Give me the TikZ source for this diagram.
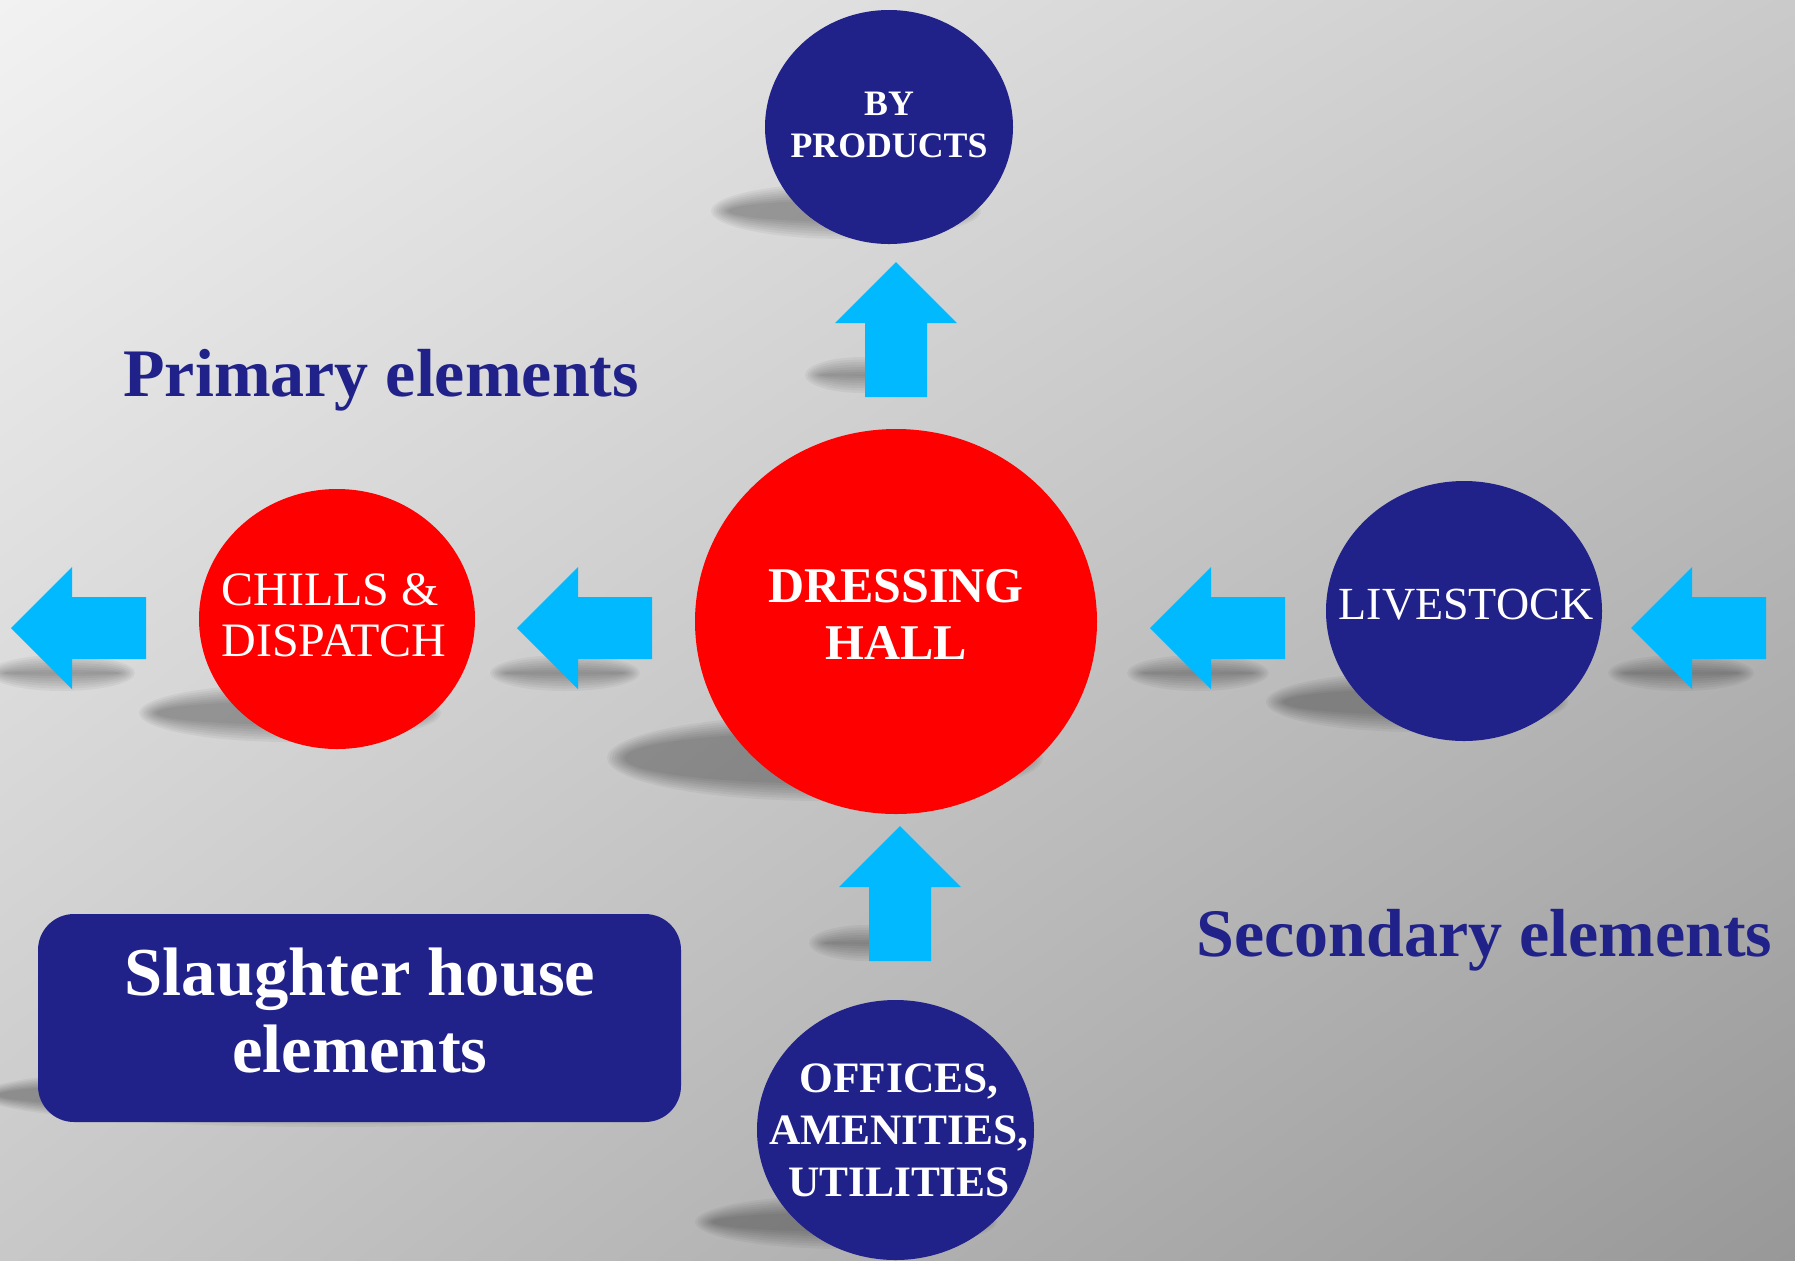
\documentclass[tikz,border=0pt]{standalone}
\usepackage{fontspec}
\setmainfont{Liberation Serif}
\usetikzlibrary{shapes.geometric,shadings}

\definecolor{navy}{RGB}{33,34,137}
\definecolor{hallred}{RGB}{255,0,0}
\definecolor{flowcyan}{RGB}{0,185,255}
\definecolor{bgUL}{RGB}{242,242,242}
\definecolor{bgUR}{RGB}{202,202,202}
\definecolor{bgLL}{RGB}{200,200,200}
\definecolor{bgLR}{RGB}{152,152,152}

\tikzset{
  bubble/.style={ellipse, inner sep=0pt},
  navybubble/.style={bubble, fill=navy},
  redbubble/.style={bubble, fill=hallred},
  bubbletext/.style={text=white, align=center, inner sep=0pt},
  heading/.style={text=navy, inner sep=0pt, anchor=base west,
    font=\bfseries\fontsize{34}{40}\selectfont},
  pics/blockarrow/.style={code={
    \fill[flowcyan] (0,0) -- (-61,-61) -- (-61,-31) -- (-135,-31)
      -- (-135,31) -- (-61,31) -- (-61,61) -- cycle;}},
}

% soft drop shadow: centre x, centre y, x radius, y radius
\newcommand\softshadow[4]{%
  \foreach \d in {9,6.5,...,-8.5}{%
    \fill[black, fill opacity=0.044] (#1,#2) ellipse [x radius=#3+\d, y radius=#4+\d];}}

\begin{document}
\begin{tikzpicture}[x=0.5pt, y=-0.5pt]
  % background
  \shade[upper left=bgUL, upper right=bgUR, lower left=bgLL, lower right=bgLR]
    (0,0) rectangle (1795,1260);
  \useasboundingbox (0,0) rectangle (1795,1260);

  % shadows
  \softshadow{846}{211}{126}{19}
  \softshadow{862}{375}{48}{9}
  \softshadow{290}{713}{142}{20}
  \softshadow{62}{673}{64}{9}
  \softshadow{565}{673}{66}{9}
  \softshadow{825}{758}{209}{34}
  \softshadow{1417}{702}{142}{21}
  \softshadow{1198}{673}{62}{9}
  \softshadow{1681}{673}{64}{9}
  \softshadow{866}{943}{48}{9}
  \softshadow{846}{1222}{142}{18}
  \softshadow{330}{1095}{341}{23}

  % bubbles
  \node[navybubble, minimum width=124pt, minimum height=117pt] (byprod) at (889,127) {};
  \node[redbubble, minimum width=201pt, minimum height=192.5pt] (hall) at (896,621.5) {};
  \node[redbubble, minimum width=138pt, minimum height=130pt] (chills) at (337,619) {};
  \node[navybubble, minimum width=138pt, minimum height=130pt] (livestock) at (1464,611) {};
  \node[navybubble, minimum width=138.5pt, minimum height=130pt] (offices) at (895.5,1130) {};

  % bubble labels
  \node[bubbletext, font=\bfseries\fontsize{17.9}{21}\selectfont]
    (byprodtext) at (889,124.5) {BY\\PRODUCTS};
  \node[bubbletext, font=\bfseries\fontsize{25}{28.5}\selectfont]
    (halltext) at (896,614.5) {DRESSING\\HALL};
  \node[bubbletext, align=left, font=\fontsize{24}{25.5}\selectfont]
    (chillstext) at (334,615.5) {CHILLS \&\\DISPATCH};
  \node[bubbletext, font=\fontsize{23}{25}\selectfont]
    (livestocktext) at (1466,604.5) {LIVESTOCK};
  \node[bubbletext, font=\bfseries\fontsize{21.7}{26}\selectfont]
    (officestext) at (899,1130) {OFFICES,\\AMENITIES,\\UTILITIES};

  % flow arrows
  \pic (flowA) [rotate=180] at (11,628) {blockarrow};
  \pic (flowB) [rotate=180] at (517,628) {blockarrow};
  \pic (flowC) [rotate=180] at (1150,628) {blockarrow};
  \pic (flowD) [rotate=180] at (1631,628) {blockarrow};
  \pic (flowUp) [rotate=90] at (896,262) {blockarrow};
  \pic (flowIn) [rotate=90] at (900,826) {blockarrow};

  % headings
  \node[heading] (primary) at (123,396) {Primary elements};
  \node[heading] (secondary) at (1196,956) {Secondary elements};

  % title box
  \node[fill=navy, rounded corners=18pt, minimum width=321.5pt,
        minimum height=104pt, inner sep=0pt] (title) at (359.5,1018) {};
  \node[bubbletext, font=\bfseries\fontsize{34.3}{38.5}\selectfont]
    (titletext) at (360,1010.5) {Slaughter house\\elements};
\end{tikzpicture}
\end{document}
